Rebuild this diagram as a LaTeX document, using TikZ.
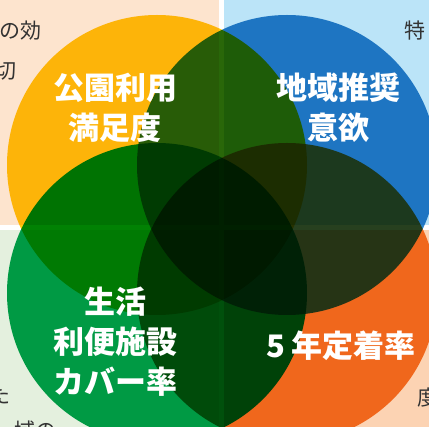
\documentclass[tikz,border=0pt]{standalone}
\usepackage{fontspec}
\newfontfamily\jp{Noto Sans CJK JP}
\definecolor{bgTL}{HTML}{FDE4CE}
\definecolor{bgTR}{HTML}{BBE4F8}
\definecolor{bgBL}{HTML}{E4F0DE}
\definecolor{bgBR}{HTML}{FCD3B3}
\definecolor{cYellow}{RGB}{255,202,12}
\definecolor{cBlue}{RGB}{41,131,200}
\definecolor{cGreen}{RGB}{1,164,79}
\definecolor{cOrange}{RGB}{243,125,40}
\definecolor{textgrey}{HTML}{333333}
\begin{document}
\begin{tikzpicture}[x=1pt,y=-1pt,
  bgtext/.style={font=\jp\fontsize{21}{28}\selectfont, text=textgrey, inner sep=0pt},
  vlabel/.style={font=\jp\bfseries\fontsize{31}{40}\selectfont, text=white, align=center, inner sep=0pt},
  venn/.style={blend mode=multiply}]
\useasboundingbox (0,0) rectangle (429,427);
\begin{scope}
\clip (0,0) rectangle (429,427);
\fill[white] (0,0) rectangle (429,427);
\fill[bgTL] (0,0) rectangle (219,225);
\fill[bgTR] (224,0) rectangle (429,225);
\fill[bgBL] (0,230) rectangle (219,427);
\fill[bgBR] (224,230) rectangle (429,427);
\node[bgtext, anchor=base east] (t1) at (42,39) {の効};
\node[bgtext, anchor=base east] (t2) at (17,79) {切};
\node[bgtext, anchor=base west] (t3) at (404,39) {特};
\node[bgtext, anchor=base east] (t4) at (11,404) {た};
\node[bgtext, anchor=base east] (t5) at (57,439) {域の};
\node[bgtext, anchor=base west] (t6) at (417,406) {度};
\fill[cYellow, venn] (157,165) circle (150);
\fill[cBlue, venn] (287,165) circle (150);
\fill[cGreen, venn] (157,293) circle (150);
\fill[cOrange, venn] (287,293) circle (150);
\end{scope}
\node[vlabel] (park) at (115,108) {公園利用\\満足度};
\node[vlabel] (recommend) at (338,108) {地域推奨\\意欲};
\node[vlabel] (life) at (115,342) {生活\\利便施設\\カバー率};
\node[vlabel] (settle) at (341,345.5) {5 年定着率};
\end{tikzpicture}
\end{document}
